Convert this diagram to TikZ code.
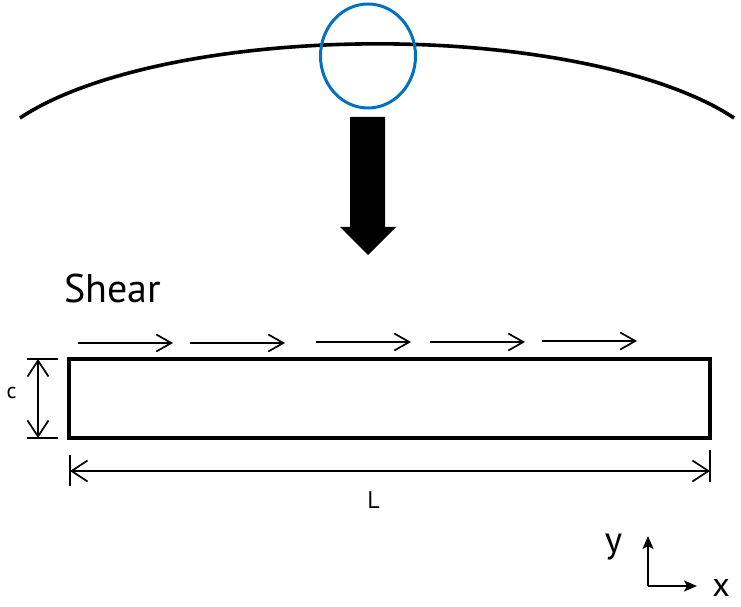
\documentclass[tikz,border=0pt]{standalone}
\usepackage{fontspec}
\setmainfont{PT Sans}
\usetikzlibrary{arrows.meta}
\definecolor{ringblue}{RGB}{0,112,192}
\begin{document}
\begin{tikzpicture}[x=1pt,y=1pt,
  shearbarb/.style={-{Straight Barb[length=15pt,width=17pt]}, line width=1.7pt},
  dimarrow/.style={{Straight Barb[length=16pt,width=21pt]}-{Straight Barb[length=16pt,width=21pt]}, line width=1.7pt},
  extline/.style={line width=1.7pt},
  axisarrow/.style={-{Stealth[length=13pt,width=11pt,inset=3pt]}, line width=2pt},
  lbl/.style={inner sep=0pt, anchor=base}
]
\useasboundingbox (0,0) rectangle (741,606);
% curved surface
\draw[line width=3.6pt] (20,488) arc[start angle=153.2, end angle=26.8, x radius=400, y radius=135];
% blue ring
\draw[ringblue, line width=3pt] (368,550) ellipse[x radius=47.5, y radius=52];
% block arrow
\fill (350,489) -- (385,489) -- (385,379) -- (396,379) -- (368,351) -- (340,379) -- (350,379) -- cycle;
% label
\node[lbl, anchor=base west, font=\fontsize{40}{44}\selectfont] (shear) at (64,304) {Shear};
% beam
\node[draw, line width=4.5pt, minimum width=641pt, minimum height=79pt, inner sep=0pt] (beam) at (389.5,207.5) {};
% shear arrows
\coordinate (s1a) at (78,263);  \coordinate (s1b) at (173,263);
\coordinate (s2a) at (190,263); \coordinate (s2b) at (285,263);
\coordinate (s3a) at (316,264); \coordinate (s3b) at (411,264);
\coordinate (s4a) at (430,264); \coordinate (s4b) at (525,264);
\coordinate (s5a) at (542,265); \coordinate (s5b) at (637,265);
\draw[shearbarb] (s1a) -- (s1b);
\draw[shearbarb] (s2a) -- (s2b);
\draw[shearbarb] (s3a) -- (s3b);
\draw[shearbarb] (s4a) -- (s4b);
\draw[shearbarb] (s5a) -- (s5b);
% c dimension
\coordinate (ct1) at (27,247); \coordinate (ct2) at (58,247);
\coordinate (cb1) at (27,168); \coordinate (cb2) at (58,168);
\coordinate (ctop) at (38,247); \coordinate (cbot) at (38,168);
\draw[extline] (ct1) -- (ct2);
\draw[extline] (cb1) -- (cb2);
\draw[dimarrow] (ctop) -- (cbot);
\node[lbl, font=\fontsize{22}{26}\selectfont] (clabel) at (11.5,208) {c};
% L dimension
\coordinate (lt1) at (70,151); \coordinate (lt2) at (70,120);
\coordinate (rt1) at (710,156); \coordinate (rt2) at (710,124);
\coordinate (lleft) at (70,135); \coordinate (lright) at (710,135);
\draw[extline] (lt1) -- (lt2);
\draw[extline] (rt1) -- (rt2);
\draw[dimarrow] (lleft) -- (lright);
\node[lbl, font=\fontsize{24}{28}\selectfont] (llabel) at (373.5,98) {L};
% axes
\coordinate (origin) at (648,20);
\coordinate (ytip) at (648,70);
\coordinate (xtip) at (697,20);
\draw[axisarrow] (origin) -- (ytip);
\draw[axisarrow] (origin) -- (xtip);
\node[lbl, font=\fontsize{37}{40}\selectfont] (ylabel) at (613.5,54) {y};
\node[lbl, font=\fontsize{34}{37}\selectfont] (xlabel) at (721,10) {x};
\end{tikzpicture}
\end{document}
